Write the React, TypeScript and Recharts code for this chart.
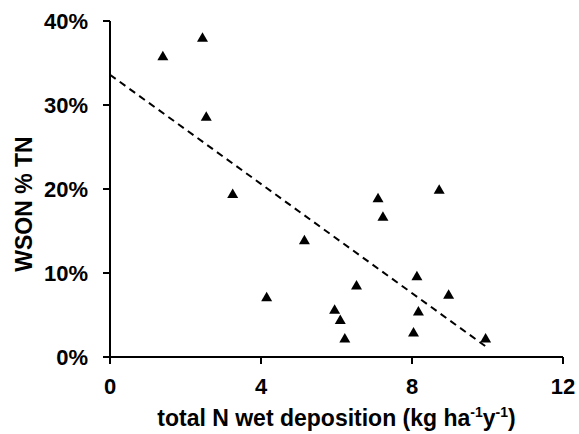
import React from "react";
import {
  ScatterChart,
  Scatter,
  XAxis,
  YAxis,
  ReferenceLine,
  Label,
} from "recharts";

// total N wet deposition (kg ha-1 y-1)
const depositionX = [1.4, 2.45, 2.55, 3.25, 4.15, 5.15, 5.95, 6.1, 6.22, 6.53, 7.1, 7.23, 8.72, 8.13, 8.17, 8.04, 8.97, 9.95];
// WSON as % of TN
const wsonPct = [35.9, 38.1, 28.7, 19.5, 7.2, 14.0, 5.7, 4.5, 2.3, 8.6, 19.0, 16.8, 20.0, 9.7, 5.5, 3.0, 7.5, 2.3];

// fitted trend line end points
const trendX = [0, 9.97];
const trendY = [33.6, 1.2];

const xTicks = [0, 4, 8, 12];
const yTicks = [0, 10, 20, 30, 40];

const points = depositionX.map((x, i) => ({ x, y: wsonPct[i] }));

const FONT = "'Liberation Sans', Arial, sans-serif";

const Triangle = (props: any) => {
  const { cx, cy } = props;
  if (cx == null || cy == null) return null;
  const hw = 5.5;
  const h = 9.5;
  return (
    <polygon
      points={`${cx - hw},${cy + h / 2} ${cx + hw},${cy + h / 2} ${cx},${cy - h / 2}`}
      fill="#000"
    />
  );
};

const XTitle = (props: any) => {
  const { viewBox } = props;
  const cx = viewBox.x + viewBox.width / 2;
  return (
    <text x={cx} y={426} textAnchor="middle" fontFamily={FONT} fontWeight="bold" fontSize={23} fill="#000">
      total N wet deposition (kg ha
      <tspan fontSize={14} dy={-9}>-1</tspan>
      <tspan dy={9}>y</tspan>
      <tspan fontSize={14} dy={-9}>-1</tspan>
      <tspan dy={9}>)</tspan>
    </text>
  );
};

const YTitle = () => (
  <text
    x={32}
    y={204}
    transform="rotate(-90, 32, 204)"
    textAnchor="middle"
    fontFamily={FONT}
    fontWeight="bold"
    fontSize={23}
    fill="#000"
  >
    WSON % TN
  </text>
);

export default function App() {
  return (
    <div style={{ position: "absolute", left: 0, top: 0, background: "#fff" }}>
      <ScatterChart width={579} height={434} margin={{ top: 21, right: 16, left: 0, bottom: 0 }}>
        <XAxis
          type="number"
          dataKey="x"
          domain={[0, 12]}
          ticks={xTicks}
          height={77}
          axisLine={{ stroke: "#000", strokeWidth: 2 }}
          tickLine={{ stroke: "#000", strokeWidth: 2 }}
          tickSize={7}
          tick={{ fill: "#000", fontSize: 22, fontWeight: "bold", fontFamily: FONT }}
          tickMargin={14}
        >
          <Label content={<XTitle />} />
        </XAxis>
        <YAxis
          type="number"
          dataKey="y"
          domain={[0, 40]}
          ticks={yTicks}
          width={110}
          tickFormatter={(v) => `${v}%`}
          axisLine={{ stroke: "#000", strokeWidth: 2 }}
          tickLine={{ stroke: "#000", strokeWidth: 2 }}
          tickSize={7}
          tick={{ fill: "#000", fontSize: 22, fontWeight: "bold", fontFamily: FONT }}
          tickMargin={15}
        >
          <Label content={<YTitle />} />
        </YAxis>
        <ReferenceLine
          segment={[
            { x: trendX[0], y: trendY[0] },
            { x: trendX[1], y: trendY[1] },
          ]}
          stroke="#000"
          strokeWidth={2}
          strokeDasharray="7 5"
          ifOverflow="visible"
        />
        <Scatter data={points} shape={<Triangle />} isAnimationActive={false} />
      </ScatterChart>
    </div>
  );
}
